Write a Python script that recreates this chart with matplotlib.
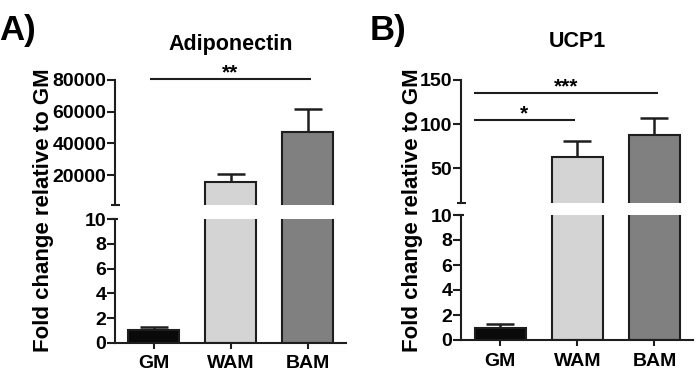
import matplotlib
matplotlib.use("Agg")
import matplotlib.pyplot as plt
import numpy as np

plt.rcParams['font.family'] = ['Liberation Sans', 'DejaVu Sans']
plt.rcParams['font.weight'] = 'bold'

# ---- data ----
categories = ['GM', 'WAM', 'BAM']
adipo_mean = [1.0, 16000, 47000]
adipo_err = [0.25, 4500, 15000]
ucp1_mean = [1.0, 63, 87.5]
ucp1_err = [0.25, 18, 19.5]
bar_colors = ['#0a0a0a', '#d4d4d4', '#808080']

adipo_upper_ticks = [20000, 40000, 60000, 80000]
ucp1_upper_ticks = [50, 100, 150]
lower_ticks = [0, 2, 4, 6, 8, 10]

# significance brackets: (x_start, x_end, y, label)
adipo_sig = [(-0.045, 2.04, 80400, '**')]
ucp1_sig = [(-0.34, 2.05, 135.5, '***'), (-0.34, 0.97, 105, '*')]

W, H = 698, 383
fig = plt.figure(figsize=(W / 100, H / 100), dpi=100)


def rect(left, right, top, bottom):
    return [left / W, 1 - bottom / H, (right - left) / W, (bottom - top) / H]


EDGE = '#1e1e1e'
LW = 1.5
TICK_FS = 14


def style_axis(ax):
    for s in ['top', 'right']:
        ax.spines[s].set_visible(False)
    for s in ['left', 'bottom']:
        ax.spines[s].set_linewidth(LW)
        ax.spines[s].set_color(EDGE)
    ax.tick_params(axis='both', direction='out', width=LW, color=EDGE,
                   length=5.5, pad=1, labelsize=TICK_FS)
    for lab in ax.get_yticklabels() + ax.get_xticklabels():
        lab.set_fontweight('bold')


def draw_bars(ax, means, errs):
    x = np.arange(len(categories))
    ax.bar(x, means, width=0.66, color=bar_colors, edgecolor=EDGE,
           linewidth=LW, zorder=2)
    ax.errorbar(x, means, yerr=[np.zeros(len(errs)), errs], fmt='none',
                ecolor=EDGE, elinewidth=1.8, capsize=10, capthick=1.8, zorder=1)
    ax.set_xlim(-0.5, 2.5)


def panel(left, right, top_up, bot_up, top_lo, bot_lo, means, errs,
          up_ylim, up_ticks, sigs, title, letter, letter_x, title_y, ylabel_x):
    axu = fig.add_axes(rect(left, right, top_up, bot_up))
    axl = fig.add_axes(rect(left, right, top_lo, bot_lo))
    draw_bars(axu, means, errs)
    draw_bars(axl, means, errs)
    axu.set_ylim(*up_ylim)
    axu.set_yticks(up_ticks)
    axu.set_yticklabels([str(t) for t in up_ticks])
    axl.set_ylim(0, 10)
    axl.set_yticks(lower_ticks)
    axl.set_yticklabels([str(t) for t in lower_ticks])
    axl.set_xticks(np.arange(len(categories)))
    axl.set_xticklabels(categories)
    axu.set_xticks([])
    style_axis(axu)
    style_axis(axl)
    axu.spines['bottom'].set_visible(False)
    axl.tick_params(axis='x', length=4, pad=5)
    # break cap at bottom of upper spine
    axu.plot([-0.02, 0.02], [0, 0], transform=axu.transAxes, color=EDGE,
             lw=LW, clip_on=False, solid_capstyle='butt')
    axl.plot([-0.02, 0.01], [1, 1], transform=axl.transAxes, color=EDGE,
             lw=LW, clip_on=False, solid_capstyle='butt')
    for x0, x1, y, lab in sigs:
        axu.plot([x0, x1], [y, y], color=EDGE, lw=LW, clip_on=False,
                 solid_capstyle='butt')
        axu.annotate(lab, xy=((x0 + x1) / 2, y), xytext=(0, 0.5),
                     textcoords='offset points', ha='center', va='baseline',
                     fontsize=15, fontweight='bold', annotation_clip=False)
    cx = (left + right) / 2
    fig.text(cx / W, 1 - title_y / H, title, ha='center', va='baseline',
             fontsize=15.5, fontweight='bold')
    fig.text(letter_x / W, 1 - 40 / H, letter, ha='left', va='baseline',
             fontsize=25, fontweight='bold')
    fig.text(ylabel_x / W, 1 - 210.5 / H, 'Fold change relative to GM',
             rotation=90, ha='center', va='center', fontsize=16,
             fontweight='bold')


panel(115.3, 346, 80, 205, 219.3, 342.7, adipo_mean, adipo_err,
      (1200, 80000), adipo_upper_ticks, adipo_sig, 'Adiponectin', 'A)', -1, 50, 44)
panel(461.5, 693, 80, 203.3, 215, 340, ucp1_mean, ucp1_err,
      (10, 150), ucp1_upper_ticks, ucp1_sig, 'UCP1', 'B)', 370, 47, 412)

fig.savefig('out.png', dpi=100)
